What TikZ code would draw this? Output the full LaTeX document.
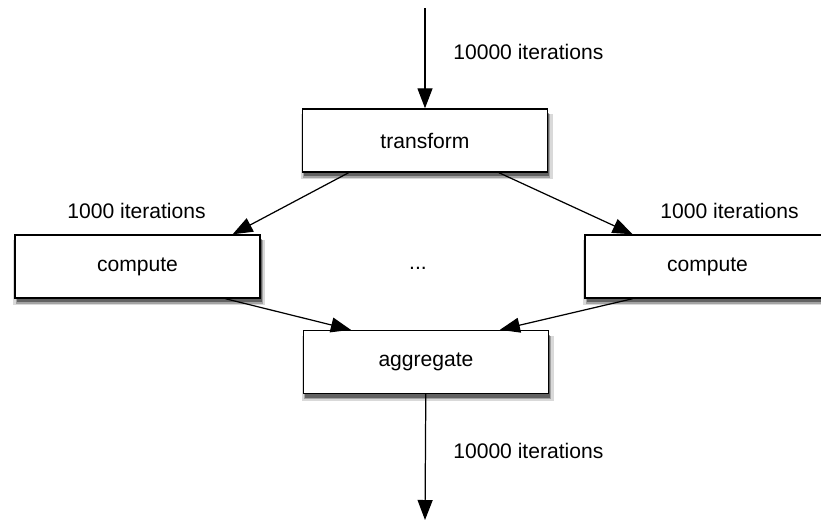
\documentclass[tikz,border=0pt]{standalone}
\usepackage{fontspec}
\setmainfont{Liberation Sans}
\usetikzlibrary{arrows.meta, calc, shadows}

\begin{document}
\begin{tikzpicture}[
		x=0.02cm, y=-0.02cm,
		font=\fontsize{12}{14}\selectfont,
		procbox/.style={draw=black, fill=white, line width=0.8pt,
			minimum width=4.9cm, minimum height=1.26cm, align=center,
			general shadow={shadow xshift=1pt, shadow yshift=-3.5pt, shadow scale=1.03, fill=black, opacity=0.15},
			general shadow={shadow xshift=1pt, shadow yshift=-3pt, shadow scale=1.01, fill=black, opacity=0.25},
			general shadow={shadow xshift=1pt, shadow yshift=-2.5pt, fill=black, opacity=0.4}},
		iterlabel/.style={anchor=west, inner sep=0pt},
		arrow/.style={-{Triangle[length=4mm, width=3mm]}, line width=0.7pt}
	]
		\clip (0,0) rectangle (821,521);
		\useasboundingbox (0,0) rectangle (821,521);
		\node[procbox] (transform) at (425,140.5) {transform};
		\node[procbox] (computeL) at (137.5,266.5) {compute};
		\node[procbox] (computeR) at (707.5,266.5) {compute};
		\node[procbox] (aggregate) at (426,362) {aggregate};
		\node (dots) at (418,268) {...};
		\coordinate (src) at (425,8);
		\coordinate (sink) at (425,520);
		\draw[arrow] (src) -- (transform);
		\draw[arrow] ($(transform.south west)!0.19!(transform.south east)$) -- ($(computeL.north west)!0.886!(computeL.north east)$);
		\draw[arrow] ($(transform.south west)!0.80!(transform.south east)$) -- ($(computeR.north west)!0.196!(computeR.north east)$);
		\draw[arrow] ($(computeL.south west)!0.857!(computeL.south east)$) -- ($(aggregate.north west)!0.195!(aggregate.north east)$);
		\draw[arrow] ($(computeR.south west)!0.196!(computeR.south east)$) -- ($(aggregate.north west)!0.80!(aggregate.north east)$);
		\draw[arrow] (aggregate) -- (sink);
		\node[iterlabel] (topiter) at (453,52) {10000 iterations};
		\node[iterlabel] (leftiter) at (67,211) {1000 iterations};
		\node[iterlabel] (rightiter) at (660,211) {1000 iterations};
		\node[iterlabel] (botiter) at (453,451) {10000 iterations};
	\end{tikzpicture}
\end{document}
